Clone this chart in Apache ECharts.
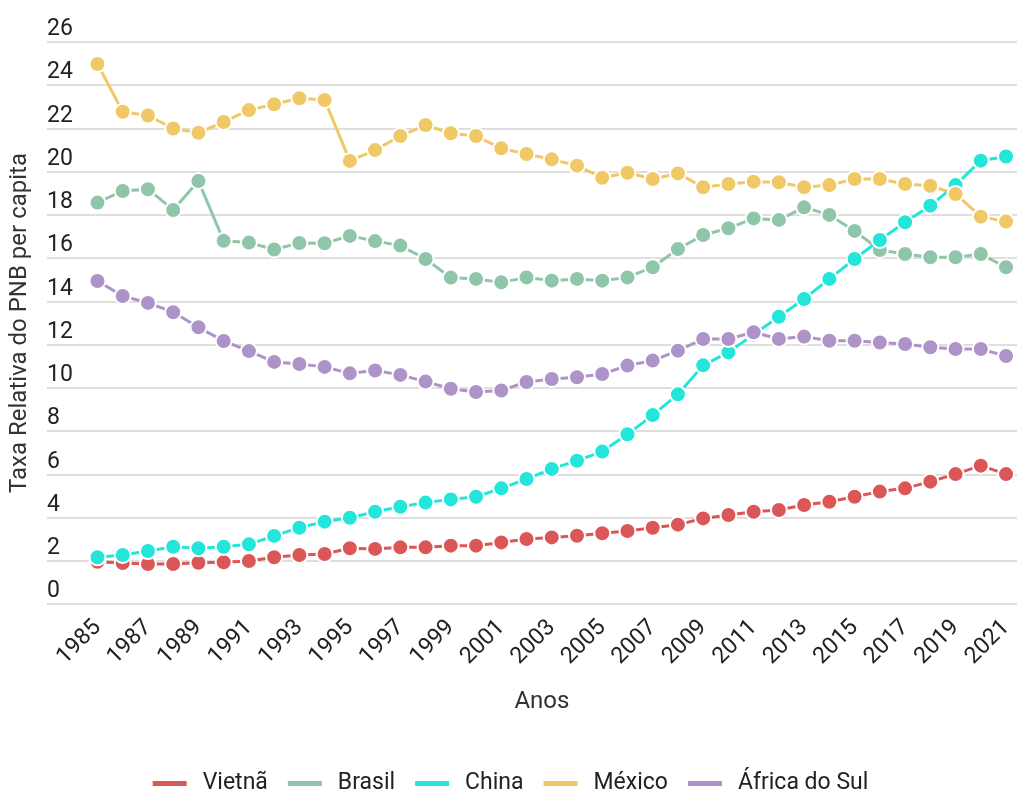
<!DOCTYPE html>
<html>
<head>
<meta charset="utf-8">
<title>Taxa Relativa do PNB per capita</title>
<script src="https://cdn.jsdelivr.net/npm/echarts@6/dist/echarts.min.js"></script>
<style>
  html, body { margin: 0; padding: 0; background: #ffffff; }
  #chart { width: 1019px; height: 792px; }
</style>
</head>
<body>
<div id="chart"></div>
<script>
// Anos (1985–2021)
const years = [
  1985, 1986, 1987, 1988, 1989, 1990, 1991, 1992, 1993, 1994,
  1995, 1996, 1997, 1998, 1999, 2000, 2001, 2002, 2003, 2004,
  2005, 2006, 2007, 2008, 2009, 2010, 2011, 2012, 2013, 2014,
  2015, 2016, 2017, 2018, 2019, 2020, 2021
];

const vietna = [
  1.95, 1.9, 1.85, 1.85, 1.91, 1.93, 1.99, 2.16, 2.27, 2.31,
  2.58, 2.55, 2.62, 2.62, 2.7, 2.7, 2.85, 3.01, 3.08, 3.16,
  3.27, 3.38, 3.53, 3.67, 3.96, 4.12, 4.27, 4.35, 4.58, 4.73,
  4.96, 5.2, 5.35, 5.66, 6.01, 6.4, 6.01
];

const brasil = [
  18.57, 19.11, 19.19, 18.23, 19.57, 16.8, 16.72, 16.4, 16.7, 16.69,
  17.03, 16.79, 16.58, 15.96, 15.1, 15.04, 14.88, 15.11, 14.96, 15.04,
  14.96, 15.11, 15.58, 16.42, 17.07, 17.38, 17.84, 17.77, 18.35, 18.0,
  17.26, 16.38, 16.19, 16.04, 16.04, 16.19, 15.58
];

const china = [
  2.16, 2.27, 2.45, 2.65, 2.58, 2.65, 2.76, 3.15, 3.53, 3.81,
  3.99, 4.27, 4.5, 4.69, 4.84, 4.96, 5.35, 5.78, 6.25, 6.63,
  7.05, 7.85, 8.74, 9.7, 11.04, 11.64, 12.47, 13.29, 14.11, 15.04,
  15.96, 16.84, 17.66, 18.43, 19.38, 20.51, 20.7
];

const mexico = [
  24.98, 22.77, 22.6, 22.0, 21.8, 22.3, 22.85, 23.12, 23.4, 23.32,
  20.5, 21.0, 21.65, 22.16, 21.78, 21.65, 21.08, 20.82, 20.57, 20.28,
  19.72, 19.95, 19.66, 19.92, 19.28, 19.43, 19.54, 19.51, 19.28, 19.38,
  19.66, 19.66, 19.43, 19.35, 18.97, 17.92, 17.69
];

const africaDoSul = [
  14.94, 14.25, 13.93, 13.5, 12.8, 12.17, 11.7, 11.2, 11.1, 10.97,
  10.67, 10.8, 10.6, 10.29, 9.96, 9.81, 9.88, 10.27, 10.41, 10.49,
  10.64, 11.03, 11.26, 11.72, 12.26, 12.26, 12.57, 12.26, 12.37, 12.18,
  12.18, 12.1, 12.03, 11.88, 11.8, 11.8, 11.47
];

const seriesNames = ['Vietnã', 'Brasil', 'China', 'México', 'África do Sul'];
const seriesValues = [vietna, brasil, china, mexico, africaDoSul];
const seriesColors = ['#db5757', '#8fc5a9', '#24e5d9', '#f0c866', '#ae93c9'];

const FONT = 'Roboto, "Noto Sans", sans-serif';

const chart = echarts.init(document.getElementById('chart'), null, { renderer: 'canvas' });

// One line per country, markers with a white rim
const series = seriesNames.map((name, i) => ({
  name: name,
  type: 'line',
  data: years.map((y, k) => [y, seriesValues[i][k]]),
  symbol: 'circle',
  symbolSize: 16,
  showSymbol: true,
  color: seriesColors[i],
  lineStyle: { width: 3, color: seriesColors[i] },
  itemStyle: { color: seriesColors[i], borderColor: '#ffffff', borderWidth: 2 },
  emphasis: { disabled: true },
  z: 2 + i
}));

chart.setOption({
  animation: false,
  backgroundColor: '#ffffff',
  textStyle: { fontFamily: FONT },
  grid: { left: 47, right: 0, top: 42, bottom: 188, containLabel: false },
  legend: {
    data: seriesNames,
    top: 767,
    left: 'center',
    icon: 'rect',
    itemWidth: 36,
    itemHeight: 7,
    itemGap: 18,
    textStyle: { fontFamily: FONT, fontSize: 23, color: '#222222', padding: [0, 0, 0, 10] }
  },
  xAxis: {
    type: 'value',
    min: 1983,
    max: 2021.43,
    interval: 1,
    name: 'Anos',
    nameLocation: 'middle',
    nameGap: 86,
    nameTextStyle: { fontFamily: FONT, fontSize: 24, color: '#333333', padding: [0, 0, 0, 20] },
    axisLine: { show: false },
    axisTick: { show: false },
    splitLine: { show: false },
    axisLabel: {
      rotate: 45,
      margin: 20,
      fontSize: 23,
      color: '#222222',
      fontFamily: FONT,
      showMinLabel: true,
      showMaxLabel: true,
      interval: 0,
      formatter: function (v) {
        const y = Math.round(v);
        if (Math.abs(v - y) > 1e-6) return '';
        if (y < years[0] || y > years[years.length - 1]) return '';
        return (y - years[0]) % 2 === 0 ? String(y) : '';
      }
    }
  },
  yAxis: {
    type: 'value',
    min: 0,
    max: 26,
    interval: 2,
    name: 'Taxa Relativa do PNB per capita',
    nameLocation: 'middle',
    nameGap: 15,
    nameTextStyle: { fontFamily: FONT, fontSize: 24, color: '#333333' },
    axisLine: { show: false },
    axisTick: { show: false },
    axisLabel: {
      inside: true,
      margin: 0,
      align: 'left',
      verticalAlign: 'bottom',
      padding: [0, 0, 1, 0],
      fontSize: 23,
      color: '#222222',
      fontFamily: FONT
    },
    splitLine: { show: true, lineStyle: { color: '#d3d3d3', width: 1.5 } }
  },
  series: series
});
</script>
</body>
</html>
